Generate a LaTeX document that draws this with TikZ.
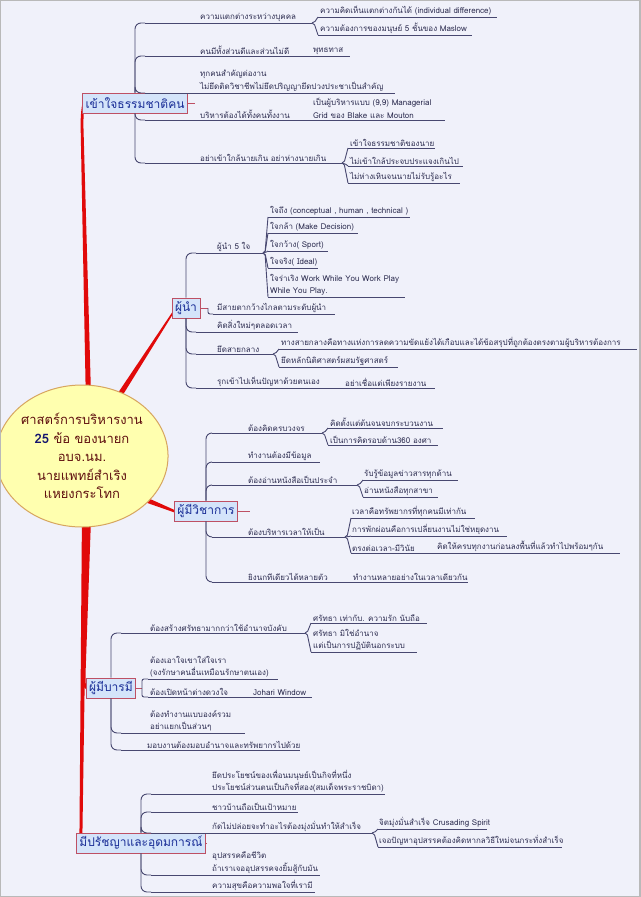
\documentclass[tikz,border=0pt]{standalone}
\usepackage{fontspec}
\setmainfont[Script=Thai]{Loma}
\usetikzlibrary{calc,backgrounds,shapes.geometric}
\definecolor{bgc}{RGB}{240,241,250}
\definecolor{spinec}{RGB}{225,10,10}
\definecolor{lnc}{RGB}{72,72,112}
\definecolor{txc}{RGB}{45,45,80}
\definecolor{boxfill}{RGB}{212,228,250}
\definecolor{boxdraw}{RGB}{190,80,100}
\definecolor{boxtext}{RGB}{25,45,150}
\definecolor{cfill}{RGB}{255,255,175}
\definecolor{cdraw}{RGB}{215,165,95}
\definecolor{ctext}{RGB}{95,15,15}
\definecolor{navyc}{RGB}{20,20,110}
\tikzset{
 sub/.style={anchor=south west, inner xsep=0pt, inner ysep=1.5pt, text=txc, font=\fontsize{8}{12.5}\selectfont, align=left},
 ln/.style={draw=lnc, line width=0.9pt},
 trunk/.style={ln, rounded corners=6pt},
 fan/.style={ln, rounded corners=2pt},
 mainbox/.style={draw=boxdraw, fill=boxfill, line width=0.8pt, text=boxtext, font=\fontsize{12}{14}\selectfont, inner xsep=3pt, inner ysep=3pt, minimum height=20pt},
 stub/.style={draw=boxdraw, line width=0.8pt},
 spine/.style={fill=spinec},
}
\newcommand\tn[6]{%
 \coordinate (#1s) at (#2,#5);
 \coordinate (#1e) at (#4,#5);
 \node[sub] (#1) at (#3,#5) {#6};
 \draw[ln] (#1s) -- (#1e);
}
\begin{document}
\begin{tikzpicture}[x=1pt,y=-1pt]
\useasboundingbox (0,0) rectangle (640,897);
% central topic
\node[ellipse, draw=cdraw, fill=cfill, line width=1pt, minimum width=160pt, minimum height=142pt, inner sep=0pt, text=ctext, align=center, font=\fontsize{13}{18.5}\selectfont] (c) at (82,456)
 {ศาสตร์การบริหารงาน\\{\color{navyc}\textbf{25}} ข้อ ของนายก\\อบจ.นม.\\นายแพทย์สำเริง\\แหยงกระโทก};
% main topics
\node[mainbox] (m1) at (135,103) {เข้าใจธรรมชาติคน};
\node[mainbox] (m2) at (186,308) {ผู้นำ};
\node[mainbox] (m3) at (206,511) {ผู้มีวิชาการ};
\node[mainbox] (m4) at (111,688) {ผู้มีบารมี};
\node[mainbox] (m5) at (141,843) {มีปรัชญาและอุดมการณ์};
\coordinate (k1) at (195,103);
\coordinate (k2) at (208,308);
\coordinate (k3) at (250,511);
\coordinate (k4) at (142,688);
\coordinate (k5) at (207,843);
\draw[stub] (m1.east) -- (k1);
\draw[stub] (m2.east) -- (k2);
\draw[stub] (m3.east) -- (k3);
\draw[stub] (m4.east) -- (k4);
\draw[stub] (m5.east) -- (k5);

% ---- section 1
\tn{a1}{145}{200}{312}{23}{ความแตกต่างระหว่างบุคคล}
\tn{a11}{318}{320}{497}{17}{ความคิดเห็นแตกต่างกันได้ (individual difference)}
\tn{a12}{318}{320}{472}{35}{ความต้องการของมนุษย์ 5 ชั้นของ Maslow}
\tn{a2}{145}{200}{306}{56}{คนมีทั้งส่วนดีและส่วนไม่ดี}
\tn{a21}{306}{313}{350}{56}{พุทธทาส}
\tn{a3}{145}{200}{395}{93}{ทุกคนสำคัญต่องาน\\ไม่ยึดติดวิชาชีพไม่ยึดปริญญายึดปวงประชาเป็นสำคัญ}
\tn{a4}{145}{200}{306}{120}{บริหารต้องได้ทั้งคนทั้งงาน}
\tn{a41}{306}{313}{445}{120}{เป็นผู้บริหารแบบ (9,9) Managerial\\Grid ของ Blake และ Mouton}
\tn{a5}{145}{200}{342}{163}{อย่าเข้าใกล้นายเกิน อย่าห่างนายเกิน}
\tn{a51}{348}{350}{435}{148}{เข้าใจธรรมชาติของนาย}
\tn{a52}{348}{350}{463}{166}{ไม่เข้าใกล้ประจบประแจงเกินไป}
\tn{a53}{348}{350}{460}{183}{ไม่ห่างเหินจนนายไม่รับรู้อะไร}
\draw[trunk] (m1.north) |- (a1s);
\draw[trunk] (m1.north) |- (a2s);
\draw[trunk] (m1.north) |- (a3s);
\draw[trunk] (m1.south) |- (a4s);
\draw[trunk] (m1.south) |- (a5s);
\draw[fan] (a1e) -- ++(2,0) -- (a11s);
\draw[fan] (a1e) -- ++(2,0) -- (a12s);
\draw[fan] (a5e) -- ++(2,0) -- (a51s);
\draw[fan] (a5e) -- ++(2,0) -- (a52s);
\draw[fan] (a5e) -- ++(2,0) -- (a53s);

% ---- section 2
\tn{b1}{196}{217}{263}{253}{ผู้นำ 5 ใจ}
\tn{b11}{268}{270}{410}{217}{ใจถึง (conceptual , human , technical )}
\tn{b12}{268}{270}{358}{233}{ใจกล้า (Make Decision)}
\tn{b13}{268}{270}{328}{251}{ใจกว้าง( Sport)}
\tn{b14}{268}{270}{318}{268}{ใจจริง( Ideal)}
\tn{b15}{268}{270}{405}{297}{ใจร่าเริง Work While You Work Play\\While You Play.}
\tn{b2}{213}{217}{335}{314}{มีสายตากว้างไกลตามระดับผู้นำ}
\tn{b3}{196}{217}{298}{332}{คิดสิ่งใหม่ๆตลอดเวลา}
\tn{b4}{196}{217}{273}{354}{ยึดสายกลาง}
\tn{b41}{279}{281}{637}{349}{ทางสายกลางคือทางแห่งการลดความขัดแย้งได้เกือบและได้ข้อสรุปที่ถูกต้องตรงตามผู้บริหารต้องการ}
\tn{b42}{279}{281}{398}{367}{ยึดหลักนิติศาสตร์ผสมรัฐศาสตร์}
\tn{b5}{196}{217}{339}{388}{รุกเข้าไปเห็นปัญหาด้วยตนเอง}
\tn{b51}{339}{345}{435}{388}{อย่าเชื่อแต่เพียงรายงาน}
\draw[trunk] (m2.north) |- (b1s);
\draw[fan] (k2) |- (b2s);
\draw[trunk] (m2.south) |- (b3s);
\draw[trunk] (m2.south) |- (b4s);
\draw[trunk] (m2.south) |- (b5s);
\foreach \q in {b11,b12,b13,b14,b15} \draw[fan] (b1e) -- ++(2,0) -- (\q s);
\draw[fan] (b4e) -- ++(2,0) -- (b41s);
\draw[fan] (b4e) -- ++(2,0) -- (b42s);

% ---- section 3
\tn{c1}{212}{248}{322}{433}{ต้องคิดครบวงจร}
\tn{c11}{328}{330}{443}{428}{คิดตั้งแต่ต้นจนจบกระบวนงาน}
\tn{c12}{328}{330}{438}{445}{เป็นการคิดรอบด้าน360 องศา}
\tn{c2}{212}{248}{320}{462}{ทำงานต้องมีข้อมูล}
\tn{c3}{212}{248}{357}{485}{ต้องอ่านหนังสือเป็นประจำ}
\tn{c31}{363}{364}{458}{480}{รับรู้ข้อมูลข่าวสารทุกด้าน}
\tn{c32}{363}{364}{438}{497}{อ่านหนังสือทุกสาขา}
\tn{c4}{212}{248}{345}{537}{ต้องบริหารเวลาให้เป็น}
\tn{c41}{351}{352}{475}{518}{เวลาคือทรัพยากรที่ทุกคนมีเท่ากัน}
\tn{c42}{351}{352}{507}{536}{การพักผ่อนคือการเปลี่ยนงานไม่ใช่หยุดงาน}
\tn{c43}{351}{352}{432}{553}{ตรงต่อเวลา-มีวินัย}
\tn{c431}{432}{437}{620}{553}{คิดให้ครบทุกงานก่อนลงพื้นที่แล้วทำไปพร้อมๆกัน}
\tn{c5}{212}{248}{347}{582}{ยิงนกทีเดียวได้หลายตัว}
\tn{c51}{347}{353}{468}{582}{ทำงานหลายอย่างในเวลาเดียวกัน}
\draw[trunk] (m3.north) |- (c1s);
\draw[trunk] (m3.north) |- (c2s);
\draw[trunk] (m3.north) |- (c3s);
\draw[trunk] (m3.south) |- (c4s);
\draw[trunk] (m3.south) |- (c5s);
\draw[fan] (c1e) -- ++(2,0) -- (c11s);
\draw[fan] (c1e) -- ++(2,0) -- (c12s);
\draw[fan] (c3e) -- ++(2,0) -- (c31s);
\draw[fan] (c3e) -- ++(2,0) -- (c32s);
\draw[fan] (c4e) -- ++(2,0) -- (c41s);
\draw[fan] (c4e) -- ++(2,0) -- (c42s);
\draw[fan] (c4e) -- ++(2,0) -- (c43s);

% ---- section 4
\tn{d1}{121}{150}{305}{633}{ต้องสร้างศรัทธามากกว่าใช้อำนาจบังคับ}
\tn{d11}{311}{313}{427}{623}{ศรัทธา เท่ากับ. ความรัก นับถือ}
\tn{d12}{311}{313}{417}{652}{ศรัทธา มิใช่อำนาจ\\แต่เป็นการปฏิบัตินอกระบบ}
\tn{d2}{148}{150}{278}{679}{ต้องเอาใจเขาใส่ใจเรา\\(จงรักษาคนอื่นเหมือนรักษาตนเอง)}
\tn{d3}{148}{150}{246}{697}{ต้องเปิดหน้าต่างดวงใจ}
\tn{d31}{246}{253}{312}{697}{Johari Window}
\tn{d4}{121}{150}{245}{733}{ต้องทำงานแบบองค์รวม\\อย่าแยกเป็นส่วนๆ}
\tn{d5}{121}{147}{300}{750}{มอบงานต้องมอบอำนาจและทรัพยากรไปด้วย}
\draw[trunk] (m4.north) |- (d1s);
\draw[fan] (k4) |- (d2s);
\draw[fan] (k4) |- (d3s);
\draw[trunk] (m4.south) |- (d4s);
\draw[trunk] (m4.south) |- (d5s);
\draw[fan] (d1e) -- ++(2,0) -- (d11s);
\draw[fan] (d1e) -- ++(2,0) -- (d12s);

% ---- section 5
\tn{e1}{151}{212}{385}{794}{ยึดประโยชน์ของเพื่อนมนุษย์เป็นกิจที่หนึ่ง\\ประโยชน์ส่วนตนเป็นกิจที่สอง(สมเด็จพระราชบิดา)}
\tn{e2}{151}{212}{298}{812}{ชาวบ้านถือเป็นเป้าหมาย}
\tn{e3}{151}{212}{372}{833}{กัดไม่ปล่อยจะทำอะไรต้องมุ่งมั่นทำให้สำเร็จ}
\tn{e31}{378}{379}{487}{829}{จิตมุ่งมั่นสำเร็จ Crusading Spirit}
\tn{e32}{378}{379}{562}{847}{เจอปัญหาอุปสรรคต้องคิดหากลวิธีใหม่จนกระทั่งสำเร็จ}
\tn{e4}{151}{212}{320}{875}{อุปสรรคคือชีวิต\\ถ้าเราเจออุปสรรคจงยิ้มสู้กับมัน}
\tn{e5}{151}{212}{315}{892}{ความสุขคือความพอใจที่เรามี}
\draw[trunk] (m5.north) |- (e1s);
\draw[trunk] (m5.north) |- (e2s);
\draw[trunk] (m5.north) |- (e3s);
\draw[trunk] (m5.south) |- (e4s);
\draw[trunk] (m5.south) |- (e5s);
\draw[fan] (e3e) -- ++(2,0) -- (e31s);
\draw[fan] (e3e) -- ++(2,0) -- (e32s);

% ---- background and red spines
\begin{pgfonlayer}{background}
\fill[bgc] (0,0) rectangle (640,897);
\fill[spine] ($(c.85)+(-2.6,4)$) -- (80.6,125) .. controls (80.6,108) and (83,102) .. ($(m1.west)+(0.5,-1.5)$) -- ($(m1.west)+(0.5,1)$) .. controls (85,106) and (83.4,110) .. (83.4,125) -- ($(c.85)+(2.6,4)$) -- cycle;
\fill[spine] ($(c.60)+(-3,4)$) -- ($(m2.south west)+(0.5,-6)$) -- ($(m2.south west)+(0.5,-3)$) -- ($(c.60)+(2,6)$) -- cycle;
\fill[spine] ($(c.-33)+(-4,-3)$) -- ($(m3.west)+(0.5,-1)$) -- ($(m3.west)+(0.5,1.5)$) -- ($(c.-33)+(-5,2)$) -- cycle;
\fill[spine] ($(c.-85)+(-2.6,-4)$) -- (82.4,672) .. controls (82.4,686) .. ($(m4.west)+(0.5,1.5)$) -- ($(m4.west)+(0.5,-1)$) .. controls (85.6,684) .. (85.6,672) -- ($(c.-85)+(2.6,-4)$) -- cycle;
\fill[spine] ($(c.-88)+(-2.6,-4)$) -- (79.5,828) .. controls (79.5,842) .. ($(m5.west)+(0.5,1.5)$) -- ($(m5.west)+(0.5,-1)$) .. controls (82.5,840) .. (82.5,828) -- ($(c.-88)+(2.6,-4)$) -- cycle;
\end{pgfonlayer}
\draw[gray!55, line width=1.5pt] (0,0) rectangle (640,897);
\end{tikzpicture}
\end{document}
